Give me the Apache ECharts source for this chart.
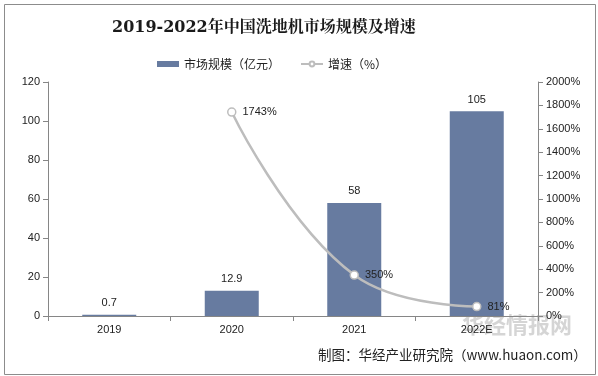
<!DOCTYPE html>
<html>
<head>
<meta charset="utf-8">
<script src="https://cdn.jsdelivr.net/npm/echarts@6/dist/echarts.min.js"></script>
<style>
    html, body { margin: 0; padding: 0; background: #fff; }
    #chart { width: 598px; height: 376px; }
</style>
</head>
<body>
<div id="chart"></div>
<script>
const years = ["2019", "2020", "2021", "2022E"];
const marketSize = [0.7, 12.9, 58, 105];
const growthRate = [null, 1743, 350, 81];

const barColor = "#677ba0";
const lineColor = "#bdbdbd";
const axisColor = "#868686";
const textFont = "'Liberation Sans', Arial, 'Noto Sans CJK SC', sans-serif";

const chart = echarts.init(document.getElementById("chart"));

const option = {
    animation: false,
    title: {
        text: "2019-2022年中国洗地机市场规模及增速",
        left: 107,
        top: 15,
        textStyle: {
            fontFamily: "'DejaVu Serif', 'Noto Serif CJK SC', 'Noto Sans CJK SC', serif",
            fontSize: 16,
            fontWeight: "bold",
            color: "#1a1a1a",
        },
    },
    legend: {
        top: 53,
        left: 152,
        itemGap: 20,
        itemWidth: 22,
        itemHeight: 6,
        textStyle: {
            fontFamily: "'Noto Sans CJK SC', sans-serif",
            fontSize: 12,
            color: "#222",
        },
        data: [
            { name: "市场规模（亿元）", icon: "rect" },
            { name: "增速（%）" },
        ],
    },
    grid: {
        left: 48,
        right: 60,
        top: 82,
        bottom: 60,
    },
    xAxis: {
        type: "category",
        data: years,
        axisLine: { lineStyle: { color: axisColor } },
        axisTick: { show: true, alignWithLabel: false, lineStyle: { color: axisColor } },
        axisLabel: {
            color: "#222",
            fontFamily: textFont,
            fontSize: 11,
            margin: 8,
        },
    },
    yAxis: [
        {
            type: "value",
            min: 0,
            max: 120,
            interval: 20,
            position: "left",
            axisLine: { show: true, lineStyle: { color: axisColor } },
            axisTick: { show: true, lineStyle: { color: axisColor } },
            splitLine: { show: false },
            axisLabel: {
                color: "#222",
                fontFamily: textFont,
                fontSize: 11,
                margin: 8,
            },
        },
        {
            type: "value",
            min: 0,
            max: 2000,
            interval: 200,
            position: "right",
            axisLine: { show: true, lineStyle: { color: axisColor } },
            axisTick: { show: true, lineStyle: { color: axisColor } },
            splitLine: { show: false },
            axisLabel: {
                formatter: (value) => `${value}%`,
                color: "#222",
                fontFamily: textFont,
                fontSize: 11,
                margin: 8,
            },
        },
    ],
    series: [
        {
            name: "市场规模（亿元）",
            type: "bar",
            yAxisIndex: 0,
            barWidth: 54,
            itemStyle: { color: barColor },
            label: {
                show: true,
                position: "top",
                distance: 6,
                color: "#222",
                fontFamily: textFont,
                fontSize: 11,
            },
            data: marketSize,
        },
        {
            name: "增速（%）",
            type: "line",
            yAxisIndex: 1,
            smooth: 0.45,
            symbol: "circle",
            symbolSize: 8,
            lineStyle: { color: lineColor, width: 2.5 },
            itemStyle: { color: "#fff", borderColor: lineColor, borderWidth: 1.5 },
            label: {
                show: true,
                position: "right",
                distance: 6,
                formatter: "{c}%",
                color: "#222",
                fontFamily: textFont,
                fontSize: 11,
            },
            data: growthRate,
        },
    ],
    graphic: [
        {
            type: "rect",
            left: 2,
            top: 2,
            shape: { width: 591, height: 370 },
            style: { fill: "none", stroke: "#8c8c8c", lineWidth: 1 },
            silent: true,
        },
        {
            type: "text",
            left: 462,
            top: 314,
            z: -1,
            style: {
                text: "华经情报网",
                font: "bold 22px 'Noto Sans CJK SC', sans-serif",
                fill: "rgba(150,150,150,0.4)",
            },
        },
        {
            type: "text",
            left: 318,
            top: 348,
            style: {
                text: "制图：华经产业研究院（www.huaon.com）",
                font: "13.5px 'Noto Sans CJK SC', sans-serif",
                fill: "#222",
            },
        },
    ],
};

chart.setOption(option);
</script>
</body>
</html>
